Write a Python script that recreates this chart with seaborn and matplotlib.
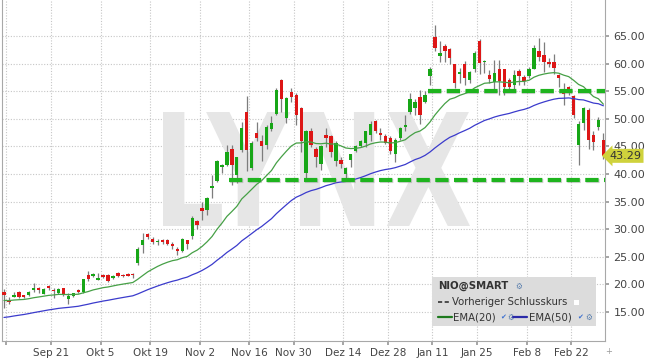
import numpy as np
import pandas as pd
import matplotlib
matplotlib.use("Agg")
import matplotlib.pyplot as plt
import matplotlib.patheffects as pe
from matplotlib.patches import Rectangle, PathPatch
from matplotlib.lines import Line2D
from matplotlib.textpath import TextPath
from matplotlib.font_manager import FontProperties
from matplotlib.transforms import Affine2D, blended_transform_factory
import seaborn as sns

sns.set_theme(style="white")
plt.rcParams["font.family"] = ["DejaVu Sans"]

#=========================================================================================
# NIO daily candles, Sep 4 2020 - Mar 2 2021
#=========================================================================================
dates = pd.bdate_range("2020-09-04", "2021-03-02")
holidays = pd.to_datetime(["2020-09-07", "2020-11-26", "2020-12-25",
                           "2021-01-01", "2021-01-18", "2021-02-15"])
dates = dates.drop(holidays)

opens = [18.7, 17.2, 17.8, 18.6, 18.0, 18.0, 18.9, 19.3, 18.3, 19.7,
         19.0, 18.4, 19.3, 17.3, 17.96, 18.9, 18.7, 21.7, 21.6, 20.8,
         21.7, 21.7, 21.1, 22.0, 21.7, 21.9, 21.9, 23.8, 27.1, 29.1,
         28.2, 27.6, 28.0, 28.0, 27.3, 26.5, 26.1, 28.0, 28.7, 31.4,
         33.9, 33.5, 37.5, 38.7, 41.2, 41.6, 44.5, 39.8, 44.4, 51.3,
         41.0, 47.5, 45.9, 45.2, 48.1, 50.9, 57.0, 50.1, 54.9, 54.3,
         52.0, 40.2, 47.85, 44.5, 41.8, 47.1, 46.9, 42.4, 42.5, 40.0,
         42.5, 44.2, 45.1, 45.55, 47.0, 49.6, 47.4, 46.9, 46.6, 43.7,
         46.5, 48.6, 51.2, 51.9, 54.0, 53.0, 57.8, 64.9, 61.4, 63.1,
         62.6, 59.9, 58.1, 59.9, 57.0, 59.0, 64.1, 60.2, 57.9, 56.6,
         58.95, 58.95, 57.0, 56.1, 58.7, 57.6, 57.75, 59.0, 62.3, 61.5,
         60.2, 60.35, 57.9, 55.35, 55.7, 54.1, 45.3, 49.3, 51.6, 47.05,
         48.6, 46.1]
highs = [19.1, 17.7, 18.7, 18.8, 18.1, 18.8, 20.2, 19.6, 19.3, 19.9,
         19.3, 19.3, 19.4, 18.4, 18.5, 19.2, 20.9, 22.5, 22.1, 22.1,
         21.9, 21.8, 21.7, 22.3, 21.8, 22.0, 22.0, 26.8, 29.3, 29.4,
         28.5, 28.3, 28.3, 28.2, 27.7, 26.8, 28.4, 28.0, 32.3, 31.7,
         35.0, 35.9, 39.8, 42.5, 41.9, 45.2, 45.3, 43.1, 49.4, 54.2,
         45.9, 49.5, 47.1, 48.9, 50.5, 55.5, 57.15, 53.9, 55.5, 54.7,
         52.2, 48.0, 48.3, 44.8, 45.25, 48.3, 47.1, 45.9, 43.1, 41.3,
         43.7, 45.25, 46.15, 47.85, 49.6, 49.8, 48.3, 47.2, 46.8, 46.5,
         48.6, 50.7, 54.6, 53.6, 55.2, 55.0, 59.4, 67.0, 64.1, 63.5,
         62.9, 60.0, 59.2, 60.4, 58.7, 62.3, 64.5, 60.6, 58.8, 60.65,
         60.65, 59.1, 57.3, 58.8, 59.1, 57.9, 59.45, 63.3, 64.6, 64.0,
         61.0, 61.8, 58.2, 56.4, 55.9, 54.3, 49.6, 52.1, 51.9, 47.7,
         50.4, 47.4]
lows = [15.7, 16.5, 17.8, 17.6, 17.5, 17.9, 18.7, 18.5, 18.2, 19.0,
        17.5, 18.3, 17.9, 16.4, 17.8, 18.4, 18.5, 20.7, 21.3, 20.8,
        21.1, 20.5, 21.0, 21.4, 21.4, 21.5, 21.1, 23.5, 25.6, 28.2,
        27.3, 27.1, 27.3, 27.1, 26.5, 25.3, 25.9, 26.5, 28.3, 30.0,
        31.7, 32.6, 35.6, 38.6, 40.1, 41.4, 38.0, 38.3, 44.0, 40.5,
        40.8, 45.9, 42.4, 44.6, 47.85, 50.7, 51.3, 49.2, 53.1, 48.9,
        44.0, 38.8, 44.95, 41.3, 40.8, 44.8, 43.0, 41.4, 41.0, 39.2,
        41.2, 44.0, 44.8, 44.8, 46.0, 47.4, 46.2, 45.4, 43.7, 42.2,
        46.2, 47.7, 50.8, 50.7, 49.0, 52.8, 56.1, 62.2, 60.3, 60.3,
        60.0, 55.5, 56.4, 56.2, 56.4, 58.5, 58.2, 58.3, 56.4, 55.1,
        54.3, 54.3, 55.2, 54.9, 56.1, 56.1, 57.3, 58.95, 60.5, 58.5,
        59.45, 58.2, 55.8, 52.5, 54.3, 50.1, 41.6, 48.0, 44.5, 44.35,
        47.95, 42.8]
closes = [18.0, 16.8, 18.1, 17.8, 17.7, 18.7, 19.3, 19.0, 19.2, 19.4,
          18.8, 19.2, 18.1, 17.9, 18.4, 18.6, 20.9, 20.9, 21.8, 21.1,
          21.4, 20.7, 21.5, 21.6, 21.5, 21.6, 21.7, 26.5, 28.0, 28.5,
          27.6, 27.9, 27.6, 27.3, 27.0, 26.1, 28.3, 27.4, 32.0, 30.7,
          33.3, 35.6, 37.8, 42.4, 41.6, 44.0, 41.6, 43.0, 48.3, 44.4,
          45.7, 46.6, 45.1, 48.6, 49.3, 55.3, 53.5, 53.7, 54.0, 50.7,
          45.9, 47.8, 45.25, 43.0, 45.1, 46.5, 44.0, 45.55, 41.9, 41.0,
          43.6, 45.1, 46.0, 47.7, 49.1, 47.7, 47.1, 45.55, 44.2, 46.2,
          48.3, 48.8, 53.6, 53.1, 50.6, 54.3, 59.0, 62.8, 62.0, 62.2,
          60.95, 56.4, 58.4, 57.4, 58.4, 62.0, 60.1, 60.4, 57.2, 58.35,
          56.8, 55.8, 55.8, 57.9, 57.7, 56.8, 59.0, 62.85, 61.2, 60.2,
          59.85, 59.2, 57.3, 54.5, 55.15, 50.6, 49.1, 51.9, 46.2, 45.8,
          49.8, 43.29]

# EMA values just before the first visible candle
ema20_seed = 17.0
ema50_seed = 13.85

support_levels = [38.9, 55.0]
support_from = ["2020-11-10", "2021-01-08"]

tick_dates = ["2020-09-08", "2020-09-21", "2020-10-05", "2020-10-19", "2020-11-02",
              "2020-11-16", "2020-11-30", "2020-12-14", "2020-12-28", "2021-01-11",
              "2021-01-25", "2021-02-08", "2021-02-22"]
tick_labels = ["", "Sep 21", "Okt 5", "Okt 19", "Nov 2", "Nov 16", "Nov 30",
               "Dez 14", "Dez 28", "Jan 11", "Jan 25", "Feb 8", "Feb 22"]
y_ticks = [15, 20, 25, 30, 35, 40, 45, 50, 55, 60, 65]

opens, highs, lows, closes = map(np.array, (opens, highs, lows, closes))
pos = np.arange(len(dates))
ema20 = pd.Series([ema20_seed] + list(closes)).ewm(span=20, adjust=False).mean().to_numpy()[1:]
ema50 = pd.Series([ema50_seed] + list(closes)).ewm(span=50, adjust=False).mean().to_numpy()[1:]

#================================================
# Figure
fig = plt.figure(figsize=(6.45, 3.58), dpi=100)
fig.patch.set_facecolor("white")
ax = fig.add_axes([1.7 / 645, 17 / 358, 603.3 / 645, 341 / 358])
ax.set_facecolor("white")

# image pixel coordinates (origin top left), used for overlays
pix = Affine2D().scale(1, -1).translate(0, 358).scale(1 / 100) + fig.dpi_scale_trans

# watermark
wm = TextPath((0, 0), "LYNX", size=100, prop=FontProperties(family="DejaVu Sans", weight="bold"))
bb = wm.get_extents()
wm_tr = Affine2D().translate(-bb.x0, -bb.y1).scale(307 / bb.width, -114 / bb.height).translate(163, 112) + pix
ax.add_patch(PathPatch(wm, transform=wm_tr, fc="#e6e6e6", ec="none", zorder=0.8))

# candles
up = closes >= opens
colors = np.where(up, "#17a617", "#dd1616")
ax.vlines(pos, lows, highs, color="#7d7d7d", linewidth=0.9, zorder=2)
body_low = np.minimum(opens, closes)
body_h = np.maximum(np.abs(closes - opens), 0.22)
ax.bar(pos, body_h, bottom=body_low, width=0.68, color=colors, linewidth=0, zorder=3)

# moving averages
sns.lineplot(x=pos, y=ema20, ax=ax, color="#46a046", linewidth=0.9, zorder=4)
sns.lineplot(x=pos, y=ema50, ax=ax, color="#3b3bcc", linewidth=0.9, zorder=4)

# support lines
for lvl, start in zip(support_levels, support_from):
    x0 = dates.get_loc(pd.Timestamp(start)) - 0.5
    ax.plot([x0, pos[-1] + 0.3], [lvl, lvl], color="#1eb41e", linewidth=3,
            dashes=(3.2, 1.3), solid_capstyle="butt", zorder=5,
            path_effects=[pe.SimpleLineShadow(offset=(0.5, -0.8), alpha=0.35, shadow_color="gray"),
                          pe.Normal()])

# axes
ax.set_xlim(-0.464, 121.33)
ax.set_ylim(9.746, 71.52)
ax.yaxis.tick_right()
ax.set_yticks(y_ticks)
ax.set_yticklabels([f"{v:.2f}" for v in y_ticks])
tick_pos = dates.get_indexer(pd.to_datetime(tick_dates)) - 0.5
ax.set_xticks(tick_pos)
ax.set_xticklabels(tick_labels)
ax.tick_params(axis="both", length=3, color="#9a9a9a", labelcolor="#444444", labelsize=7.5, pad=2)
ax.tick_params(bottom=True, right=True, left=False)
ax.tick_params(axis="y", labelsize=8, pad=3)
ax.grid(True, color="#c6c6c6", linestyle=(0, (1, 1.5)), linewidth=0.8)
ax.set_axisbelow(True)
ax.spines["top"].set_visible(False)
for s in ("left", "right", "bottom"):
    ax.spines[s].set_color("#a8a8a8")
    ax.spines[s].set_linewidth(0.8)

# last price tag
tag_tr = blended_transform_factory(ax.transAxes, ax.transData)
ax.text(1.0075, closes[-1], f"{closes[-1]:.2f}", transform=tag_tr, ha="left", va="center",
        fontsize=8, color="#333333", zorder=10, clip_on=False,
        bbox=dict(boxstyle="larrow,pad=0.18", fc="#cfd23c", ec="none"))

# legend box
ax.add_patch(Rectangle((432, 277), 164, 49, transform=pix, fc="#dcdcdc", ec="none", zorder=8, clip_on=False))
kw = dict(transform=pix, va="center", ha="left", fontsize=7.3, color="#333333", zorder=9, clip_on=False)
ax.text(438, 286, "NIO@SMART", fontweight="bold", **kw)
ax.text(515, 286, "⚙", **{**kw, "fontsize": 5.5, "color": "#5a7fae"})
ax.add_line(Line2D([438, 449], [302, 302], transform=pix, color="#333333", lw=1.2,
                   dashes=(2.5, 1.5), zorder=9, clip_on=False))
ax.text(452, 302, "Vorheriger Schlusskurs", **kw)
ax.add_patch(Rectangle((574, 299.5), 5, 5, transform=pix, fc="white", ec="none", zorder=9, clip_on=False))
ax.add_line(Line2D([438, 452], [317, 317], transform=pix, color="#1e7a1e", lw=1.6, zorder=9, clip_on=False))
ax.text(453, 317, "EMA(20)", **kw)
ax.text(500, 317, "✔", **{**kw, "fontsize": 5, "color": "#3a6fd0"})
ax.text(507, 317, "⚙", **{**kw, "fontsize": 5.5, "color": "#5a7fae"})
ax.add_line(Line2D([513, 527], [317, 317], transform=pix, color="#2a2aa8", lw=1.6, zorder=9, clip_on=False))
ax.text(529, 317, "EMA(50)", **kw)
ax.text(577, 317, "✔", **{**kw, "fontsize": 5, "color": "#3a6fd0"})
ax.text(585, 317, "⚙", **{**kw, "fontsize": 5.5, "color": "#5a7fae"})
ax.text(609, 351, "+", transform=pix, ha="center", va="center", fontsize=6, color="#999999", clip_on=False)

plt.savefig("out.png", dpi=100, facecolor="white")
plt.close()
